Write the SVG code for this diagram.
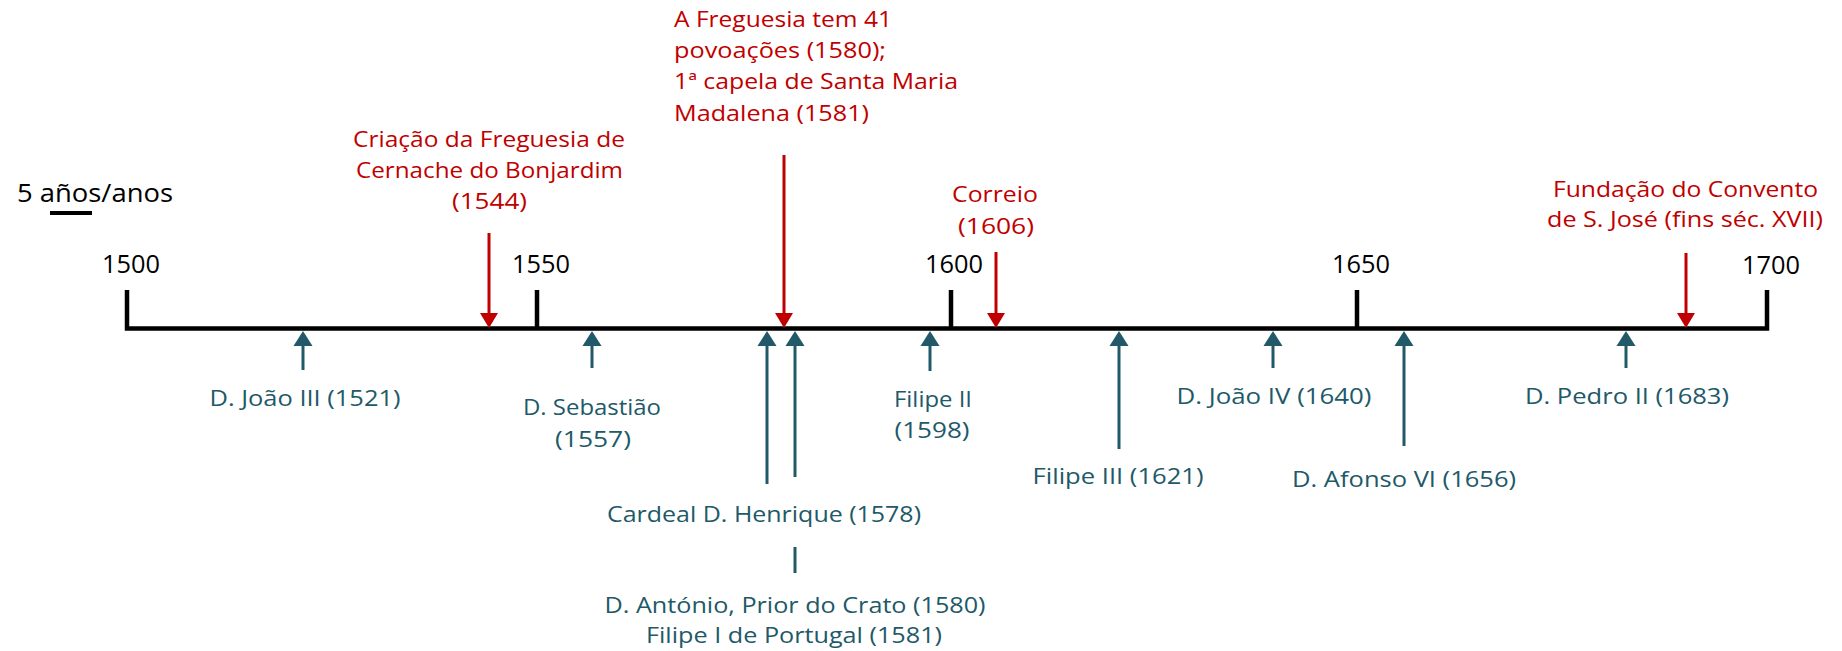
<svg xmlns="http://www.w3.org/2000/svg" width="1842" height="651" viewBox="0 0 1842 651">
<style>
text{font-family:"Open Sans","Liberation Sans",sans-serif;}
.yr{font-size:25px;fill:#000;text-anchor:middle;}
.red{font-size:22px;fill:#C00000;}
.teal{font-size:22px;fill:#215968;text-anchor:middle;}
.mid{text-anchor:middle;}
.axis{stroke:#000;stroke-width:4.5;fill:none;}
.ra{stroke:#C00000;stroke-width:3;fill:none;}
.ta{stroke:#215968;stroke-width:3;fill:none;}
</style>
<defs>
<marker id="rh" markerUnits="userSpaceOnUse" markerWidth="15" markerHeight="18" refX="5" refY="9" orient="auto" overflow="visible">
<path d="M0,0 L15,9 L0,18 Z" fill="#C00000"/>
</marker>
<marker id="th" markerUnits="userSpaceOnUse" markerWidth="15" markerHeight="19" refX="5" refY="9.5" orient="auto" overflow="visible">
<path d="M0,0 L15,9.5 L0,19 Z" fill="#215968"/>
</marker>
</defs>
<rect width="1842" height="651" fill="#fff"/>

<g id="scale">
<text x="17" y="202" font-size="25" fill="#000" textLength="156" lengthAdjust="spacingAndGlyphs">5 años/anos</text>
<line x1="50" y1="213" x2="92" y2="213" stroke="#000" stroke-width="4"/>
</g>

<g id="axis">
<path class="axis" d="M127,290 V328.5 H1767 V290"/>
<line class="axis" x1="537" y1="290" x2="537" y2="328"/>
<line class="axis" x1="951" y1="290" x2="951" y2="328"/>
<line class="axis" x1="1357" y1="290" x2="1357" y2="328"/>
<text class="yr" x="131" y="273" textLength="58" lengthAdjust="spacingAndGlyphs">1500</text>
<text class="yr" x="541" y="273" textLength="58" lengthAdjust="spacingAndGlyphs">1550</text>
<text class="yr" x="954" y="273" textLength="58" lengthAdjust="spacingAndGlyphs">1600</text>
<text class="yr" x="1361" y="273" textLength="58" lengthAdjust="spacingAndGlyphs">1650</text>
<text class="yr" x="1771" y="274" textLength="58" lengthAdjust="spacingAndGlyphs">1700</text>
</g>

<g id="connectors">
<line class="ra" x1="489" y1="233" x2="489" y2="318" marker-end="url(#rh)"/>
<line class="ra" x1="784" y1="155" x2="784" y2="318" marker-end="url(#rh)"/>
<line class="ra" x1="996" y1="252" x2="996" y2="318" marker-end="url(#rh)"/>
<line class="ra" x1="1686" y1="253" x2="1686" y2="318" marker-end="url(#rh)"/>
<line class="ta" x1="303" y1="370" x2="303" y2="341" marker-end="url(#th)"/>
<line class="ta" x1="592" y1="368" x2="592" y2="341" marker-end="url(#th)"/>
<line class="ta" x1="767" y1="484" x2="767" y2="341" marker-end="url(#th)"/>
<line class="ta" x1="795" y1="477" x2="795" y2="341" marker-end="url(#th)"/>
<line class="ta" x1="930" y1="371" x2="930" y2="341" marker-end="url(#th)"/>
<line class="ta" x1="1119" y1="449" x2="1119" y2="341" marker-end="url(#th)"/>
<line class="ta" x1="1273" y1="368" x2="1273" y2="341" marker-end="url(#th)"/>
<line class="ta" x1="1404" y1="446" x2="1404" y2="341" marker-end="url(#th)"/>
<line class="ta" x1="1626" y1="368" x2="1626" y2="341" marker-end="url(#th)"/>
<line class="ta" x1="795" y1="547" x2="795" y2="573"/>
</g>

<g id="ev-1544">
<text class="red mid" x="489" y="147" textLength="272" lengthAdjust="spacingAndGlyphs">Criação da Freguesia de</text>
<text class="red mid" x="489.5" y="178" textLength="267" lengthAdjust="spacingAndGlyphs">Cernache do Bonjardim</text>
<text class="red mid" x="489.5" y="209" textLength="75" lengthAdjust="spacingAndGlyphs">(1544)</text>
</g>
<g id="ev-1580">
<text class="red" x="674" y="27" textLength="218" lengthAdjust="spacingAndGlyphs">A Freguesia tem 41</text>
<text class="red" x="674" y="58" textLength="212" lengthAdjust="spacingAndGlyphs">povoações (1580);</text>
<text class="red" x="674" y="89" textLength="284" lengthAdjust="spacingAndGlyphs">1ª capela de Santa Maria</text>
<text class="red" x="674" y="121" textLength="195" lengthAdjust="spacingAndGlyphs">Madalena (1581)</text>
</g>
<g id="ev-1606">
<text class="red mid" x="995" y="202" textLength="86" lengthAdjust="spacingAndGlyphs">Correio</text>
<text class="red mid" x="996" y="234" textLength="76" lengthAdjust="spacingAndGlyphs">(1606)</text>
</g>
<g id="ev-xvii">
<text class="red mid" x="1685.5" y="197" textLength="265" lengthAdjust="spacingAndGlyphs">Fundação do Convento</text>
<text class="red mid" x="1685" y="227" textLength="276" lengthAdjust="spacingAndGlyphs">de S. José (fins séc. XVII)</text>
</g>

<g id="k-1521"><text class="teal" x="305" y="406" textLength="191" lengthAdjust="spacingAndGlyphs">D. João III (1521)</text></g>
<g id="k-1557">
<text class="teal" x="592" y="415" textLength="138" lengthAdjust="spacingAndGlyphs">D. Sebastião</text>
<text class="teal" x="593" y="447" textLength="76" lengthAdjust="spacingAndGlyphs">(1557)</text>
</g>
<g id="k-1578"><text class="teal" x="764" y="522" textLength="314" lengthAdjust="spacingAndGlyphs">Cardeal D. Henrique (1578)</text></g>
<g id="k-1580">
<text class="teal" x="795" y="613" textLength="381" lengthAdjust="spacingAndGlyphs">D. António, Prior do Crato (1580)</text>
<text class="teal" x="794" y="643" textLength="296" lengthAdjust="spacingAndGlyphs">Filipe I de Portugal (1581)</text>
</g>
<g id="k-1598">
<text class="teal" x="933" y="407" textLength="78" lengthAdjust="spacingAndGlyphs">Filipe II</text>
<text class="teal" x="932" y="438" textLength="75" lengthAdjust="spacingAndGlyphs">(1598)</text>
</g>
<g id="k-1621"><text class="teal" x="1118" y="484" textLength="171" lengthAdjust="spacingAndGlyphs">Filipe III (1621)</text></g>
<g id="k-1640"><text class="teal" x="1274" y="404" textLength="195" lengthAdjust="spacingAndGlyphs">D. João IV (1640)</text></g>
<g id="k-1656"><text class="teal" x="1404" y="487" textLength="224" lengthAdjust="spacingAndGlyphs">D. Afonso VI (1656)</text></g>
<g id="k-1683"><text class="teal" x="1627" y="404" textLength="204" lengthAdjust="spacingAndGlyphs">D. Pedro II (1683)</text></g>
</svg>
